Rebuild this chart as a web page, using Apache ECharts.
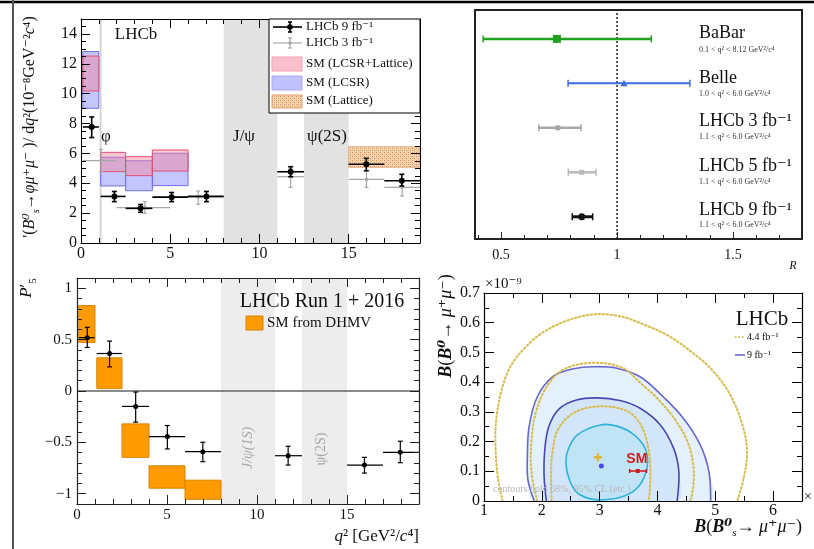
<!DOCTYPE html>
<html><head><meta charset="utf-8">
<script src="https://cdn.jsdelivr.net/npm/echarts@6/dist/echarts.min.js"></script>
<style>html,body{margin:0;padding:0;background:#fff}#c{width:814px;height:549px}</style>
</head><body><div id="c"></div>
<script>
const SERIF = 'Liberation Serif, Times New Roman, DejaVu Serif, serif';
const SANS = 'Liberation Sans, Arial, DejaVu Sans, sans-serif';

// ---------------- Panel 1 : dB/dq2 of Bs -> phi mu mu ----------------
const p1XMajor = [0, 5, 10, 15];
const p1YMajor = [0, 2, 4, 6, 8, 10, 12, 14];
const p1Lhcb9X   = [0.6, 1.87, 3.34, 5.08, 7.03, 11.75, 15.99, 17.98];
const p1Lhcb9XLo = [0.1, 1.1, 2.5, 4.0, 6.0, 11.0, 15.0, 17.0];
const p1Lhcb9XHi = [1.0, 2.5, 4.0, 6.0, 8.0, 12.5, 17.0, 19.0];
const p1Lhcb9Y   = [7.77, 3.12, 2.32, 3.07, 3.12, 4.77, 5.27, 4.17];
const p1Lhcb9YLo = [7.06, 2.77, 2.06, 2.77, 2.77, 4.44, 4.84, 3.82];
const p1Lhcb9YHi = [8.44, 3.45, 2.58, 3.38, 3.45, 5.11, 5.67, 4.60];
const p1Lhcb3X   = [1.12, 3.58, 6.57, 11.75, 16.0, 18.0];
const p1Lhcb3XLo = [0.1, 2.0, 5.0, 11.0, 15.0, 17.0];
const p1Lhcb3XHi = [2.0, 5.0, 8.0, 12.5, 17.0, 19.0];
const p1Lhcb3Y   = [5.51, 2.37, 3.08, 4.44, 4.26, 3.73];
const p1Lhcb3YLo = [4.78, 1.99, 2.59, 3.73, 3.73, 3.15];
const p1Lhcb3YHi = [6.27, 2.77, 3.48, 5.00, 4.84, 4.20];
const p1SmBinLo = [0.1, 1.1, 2.5, 4.0];
const p1SmBinHi = [1.0, 2.5, 4.0, 6.0];
const p1LcsrLatLo = [10.18, 4.78, 4.51, 4.82];
const p1LcsrLatHi = [12.52, 6.07, 5.78, 6.23];
const p1LcsrLo = [9.02, 3.82, 3.50, 3.84];
const p1LcsrHi = [12.82, 5.74, 5.51, 6.01];
const p1LatticeBin = [15.0, 19.0];
const p1LatticeBand = [5.07, 6.45];
const p1VetoLo = [8.0, 12.5];
const p1VetoHi = [11.0, 15.0];
const p1PhiLine = 1.1;

// ---------------- Panel 2 : R_K* comparison ----------------
const p2XMajor = [0.5, 1.0, 1.5];
const p2XMinor = [0.4,0.5,0.6,0.7,0.8,0.9,1.0,1.1,1.2,1.3,1.4,1.5,1.6,1.7];
const p2Names  = ['BaBar', 'Belle', 'LHCb 3 fb⁻¹', 'LHCb 5 fb⁻¹', 'LHCb 9 fb⁻¹'];
const p2Ranges = ['0.1 < q² < 8.12 GeV²/c⁴', '1.0 < q² < 6.0 GeV²/c⁴', '1.1 < q² < 6.0 GeV²/c⁴', '1.1 < q² < 6.0 GeV²/c⁴', '1.1 < q² < 6.0 GeV²/c⁴'];
const p2Row = [4.5, 3.5, 2.5, 1.5, 0.5];
const p2Val = [0.741, 1.03, 0.745, 0.848, 0.848];
const p2Lo  = [0.423, 0.789, 0.663, 0.79, 0.807];
const p2Hi  = [1.148, 1.314, 0.845, 0.91, 0.895];
const p2SM = 1.0;

// ---------------- Panel 3 : P5' ----------------
const p3XMajor = [0, 5, 10, 15];
const p3YMajor = [-1, -0.5, 0, 0.5, 1];
const p3X   = [0.57, 1.81, 3.26, 5.02, 6.99, 11.73, 15.97, 17.96];
const p3XLo = [0.1, 1.1, 2.5, 4.0, 6.0, 11.0, 15.0, 17.0];
const p3XHi = [0.98, 2.5, 4.0, 6.0, 8.0, 12.5, 17.0, 19.0];
const p3Y   = [0.519, 0.365, -0.150, -0.444, -0.591, -0.630, -0.721, -0.597];
const p3YLo = [0.424, 0.235, -0.303, -0.564, -0.688, -0.721, -0.799, -0.698];
const p3YHi = [0.620, 0.486, -0.010, -0.336, -0.499, -0.538, -0.646, -0.489];
const p3SmXLo = [0.1, 1.1, 2.5, 4.0, 6.0];
const p3SmXHi = [1.0, 2.5, 4.0, 6.0, 8.0];
const p3SmLo = [0.473, 0.023, -0.646, -0.946, -1.054];
const p3SmHi = [0.832, 0.323, -0.320, -0.728, -0.868];
const p3VetoLo = [8.0, 12.5];
const p3VetoHi = [11.0, 15.0];

// ---------------- Panel 4 : B(B0->mumu) vs B(Bs->mumu) ----------------
const p4XMajor = [1, 2, 3, 4, 5, 6];
const p4YMajor = [0, 0.1, 0.2, 0.3, 0.4, 0.5, 0.6, 0.7];
const p4Yellow3 = [[1.32,0],[1.24,0.08],[1.2,0.18],[1.21,0.27],[1.3,0.37],[1.45,0.45],[1.68,0.51],[2.0,0.565],[2.45,0.608],[2.9,0.628],[3.35,0.622],[3.75,0.595],[4.2,0.555],[4.6,0.5],[4.95,0.44],[5.26,0.357],[5.47,0.256],[5.55,0.166],[5.49,0.076],[5.38,0]];
const p4Blue2 = [[1.87,0],[1.76,0.07],[1.75,0.15],[1.78,0.25],[1.92,0.35],[2.2,0.42],[2.55,0.445],[2.9,0.452],[3.3,0.447],[3.7,0.418],[4.05,0.36],[4.45,0.278],[4.74,0.189],[4.89,0.099],[4.92,0]];
const p4Yellow2 = [[1.92,0],[1.82,0.1],[1.82,0.2],[1.9,0.3],[2.1,0.39],[2.4,0.445],[2.9,0.465],[3.4,0.448],[3.7,0.398],[4.0,0.345],[4.3,0.275],[4.52,0.2],[4.62,0.12],[4.62,0.05],[4.57,0]];
const p4Blue1 = [[2.08,0],[2.04,0.08],[2.05,0.17],[2.12,0.25],[2.3,0.31],[2.6,0.34],[2.95,0.347],[3.35,0.338],[3.7,0.312],[4.05,0.256],[4.28,0.177],[4.37,0.099],[4.34,0]];
const p4Yellow1 = [[2.17,0],[2.16,0.07],[2.18,0.16],[2.28,0.24],[2.54,0.295],[2.95,0.318],[3.45,0.305],[3.7,0.26],[3.84,0.18],[3.88,0.09],[3.85,0]];
const p4Cyan = [[3.01,0.256],[2.61,0.222],[2.45,0.17],[2.42,0.12],[2.48,0.07],[2.6,0.03],[2.82,0.008],[3.07,0.004],[3.35,0.012],[3.6,0.035],[3.76,0.075],[3.83,0.127],[3.78,0.18],[3.58,0.225],[3.3,0.252]];
const p4Fit44 = [2.97, 0.147];
const p4Fit9 = [3.03, 0.118];
const p4SM = [3.66, 0.101, 3.52, 3.81];

// ---------------- helpers ----------------
function steps(a, b, s) { const r = []; for (let v = a; v <= b + 1e-9; v += s) r.push(Math.round(v * 1000) / 1000); return r; }
const xAxes = [], yAxes = [];
function sideAxes(kind, grid, pos, min, max, major, minor, o) {
  o = o || {};
  const list = kind === 'x' ? xAxes : yAxes;
  const lineStyle = { color: o.lineColor || '#000', width: o.lineWidth || 1 };
  const tickStyle = { color: o.lineColor || '#000', width: 1 };
  const main = {
    type: 'value', gridIndex: grid, position: pos, min: min, max: max, z: 10,
    axisLine: { show: true, onZero: false, lineStyle: lineStyle },
    axisTick: { show: !!major, inside: true, length: o.majLen || 8, customValues: major || [], lineStyle: tickStyle },
    axisLabel: { show: !!o.labels, customValues: major || [], margin: o.margin || 4, fontFamily: SERIF,
      fontSize: o.fontSize || 15, color: '#111', formatter: o.formatter },
    splitLine: { show: false }
  };
  const idx = list.push(main) - 1;
  if (minor) {
    list.push({ type: 'value', gridIndex: grid, position: pos, min: min, max: max, z: 10,
      axisLine: { show: false, onZero: false },
      axisTick: { show: true, inside: true, length: o.minLen || 4, customValues: minor, lineStyle: tickStyle },
      axisLabel: { show: false }, splitLine: { show: false } });
  }
  return idx;
}
const minus = v => (v < 0 ? '−' : '') + Math.abs(v);

// Panel 1 axes
const a1x = sideAxes('x', 0, 'bottom', 0, 19, p1XMajor, steps(0, 19, 1), { labels: true, majLen: 9, minLen: 5, fontSize: 16, margin: 3 });
sideAxes('x', 0, 'top', 0, 19, p1XMajor, steps(0, 19, 1), { majLen: 9, minLen: 5 });
const a1y = sideAxes('y', 0, 'left', 0, 15, p1YMajor, steps(0, 15, 0.5), { labels: true, majLen: 9, minLen: 5, fontSize: 16, margin: 4 });
sideAxes('y', 0, 'right', 0, 15, p1YMajor, steps(0, 15, 0.5), { majLen: 9, minLen: 5 });
// Panel 2 axes
const fr2 = { lineWidth: 2, lineColor: '#222' };
const a2x = sideAxes('x', 1, 'bottom', 0.388, 1.797, p2XMajor, p2XMinor, { labels: true, majLen: 7, minLen: 4, fontSize: 14, margin: 9, lineWidth: 2, lineColor: '#222' });
sideAxes('x', 1, 'top', 0.388, 1.797, null, null, fr2);
const a2y = sideAxes('y', 1, 'left', 0, 5.15, null, null, fr2);
sideAxes('y', 1, 'right', 0, 5.15, null, null, fr2);
// Panel 3 axes
const a3x = sideAxes('x', 2, 'bottom', 0, 19, p3XMajor, steps(0, 19, 1), { labels: true, majLen: 9, minLen: 5, fontSize: 15, margin: 4, lineColor: '#222', lineWidth: 1.2 });
sideAxes('x', 2, 'top', 0, 19, p3XMajor, steps(0, 19, 1), { majLen: 9, minLen: 5, lineColor: '#222', lineWidth: 1.2 });
const a3y = sideAxes('y', 2, 'left', -1.1, 1.1, p3YMajor, steps(-1.1, 1.1, 0.1), { labels: true, majLen: 9, minLen: 5, fontSize: 15, margin: 5, formatter: minus, lineColor: '#222', lineWidth: 1.2 });
sideAxes('y', 2, 'right', -1.1, 1.1, p3YMajor, steps(-1.1, 1.1, 0.1), { majLen: 9, minLen: 5, lineColor: '#222', lineWidth: 1.2 });
// Panel 4 axes
const a4x = sideAxes('x', 3, 'bottom', 1, 6.5, p4XMajor, steps(1, 6.5, 0.5), { labels: true, majLen: 10, minLen: 5, fontSize: 16, margin: 2, lineWidth: 1.2 });
sideAxes('x', 3, 'top', 1, 6.5, p4XMajor, steps(1, 6.5, 0.5), { majLen: 10, minLen: 5, lineWidth: 1.2 });
const a4y = sideAxes('y', 3, 'left', 0, 0.7, p4YMajor, steps(0, 0.7, 0.05), { labels: true, majLen: 10, minLen: 5, fontSize: 16, margin: 4, lineWidth: 1.2 });
sideAxes('y', 3, 'right', 0, 0.7, p4YMajor, steps(0, 0.7, 0.05), { majLen: 10, minLen: 5, lineWidth: 1.2 });

// pattern for lattice band
function hatch() {
  const c = document.createElement('canvas'); c.width = 4; c.height = 4;
  const g = c.getContext('2d');
  g.fillStyle = '#f7d4b2'; g.fillRect(0, 0, 4, 4);
  g.fillStyle = '#d98e4c'; g.fillRect(0, 0, 1, 1); g.fillRect(2, 2, 1, 1);
  g.fillStyle = '#eab386'; g.fillRect(2, 0, 1, 1); g.fillRect(0, 2, 1, 1);
  return c;
}
const hatchImg = hatch();

// series builders
function rectSeries(ax, ay, rects, style, z) {
  return { type: 'custom', xAxisIndex: ax, yAxisIndex: ay, clip: true, z: z || 2, silent: true,
    data: rects,
    renderItem(params, api) {
      const p0 = api.coord([api.value(0), api.value(3)]);
      const p1 = api.coord([api.value(1), api.value(2)]);
      return { type: 'rect', shape: { x: p0[0], y: p0[1], width: p1[0] - p0[0], height: p1[1] - p0[1] }, style: Object.assign({}, style) };
    } };
}
function errSeries(ax, ay, pts, o) {
  return { type: 'custom', xAxisIndex: ax, yAxisIndex: ay, clip: true, z: o.z || 5, silent: true,
    data: pts,
    renderItem(params, api) {
      const x = api.value(0), y = api.value(1);
      const c = api.coord([x, y]), l = api.coord([api.value(2), y]), r = api.coord([api.value(3), y]);
      const t = api.coord([x, api.value(5)]), b = api.coord([x, api.value(4)]);
      const st = { stroke: o.color, lineWidth: o.lw || 1 };
      const ch = [
        { type: 'line', shape: { x1: l[0], y1: l[1], x2: r[0], y2: r[1] }, style: st },
        { type: 'line', shape: { x1: t[0], y1: t[1], x2: b[0], y2: b[1] }, style: st }
      ];
      if (o.cap) {
        ch.push({ type: 'line', shape: { x1: t[0] - o.cap, y1: t[1], x2: t[0] + o.cap, y2: t[1] }, style: st });
        ch.push({ type: 'line', shape: { x1: b[0] - o.cap, y1: b[1], x2: b[0] + o.cap, y2: b[1] }, style: st });
      }
      if (o.r) ch.push({ type: 'circle', shape: { cx: c[0], cy: c[1], r: o.r }, style: { fill: o.color } });
      return { type: 'group', children: ch };
    } };
}
function zip(...arrs) { return arrs[0].map((_, i) => arrs.map(a => a[i])); }
function contour(pts, o) {
  return { type: 'custom', xAxisIndex: a4x, yAxisIndex: a4y, clip: true, z: o.z || 3, silent: true,
    data: [[3, 0.3]],
    renderItem(params, api) {
      const P = pts.map(p => api.coord(p));
      const ch = [];
      if (o.fill) ch.push({ type: 'polygon', shape: { points: P, smooth: 0.35 }, style: { fill: o.fill, stroke: null } });
      if (o.stroke) ch.push({ type: o.closed ? 'polygon' : 'polyline', shape: { points: P, smooth: 0.35 },
        style: { fill: null, stroke: o.stroke, lineWidth: o.lw || 1.5, lineDash: o.dash || null, lineCap: o.dash ? 'round' : 'butt' } });
      return { type: 'group', children: ch };
    } };
}

const series = [];
// ---- Panel 1 series ----
series.push(rectSeries(a1x, a1y, zip(p1VetoLo, p1VetoHi, [0, 0], [15, 15]), { fill: '#e2e2e2' }, 1));
series.push({ type: 'custom', xAxisIndex: a1x, yAxisIndex: a1y, clip: true, z: 1, silent: true, data: [[p1PhiLine]],
  renderItem(params, api) { const a = api.coord([api.value(0), 0]), b = api.coord([api.value(0), 15]);
    return { type: 'line', shape: { x1: a[0], y1: a[1], x2: b[0], y2: b[1] }, style: { stroke: '#d6d6d6', lineWidth: 2 } }; } });
series.push(rectSeries(a1x, a1y, zip(p1SmBinLo, p1SmBinHi, p1LcsrLo, p1LcsrHi), { fill: 'rgba(150,150,255,0.55)', stroke: '#7070ee', lineWidth: 1 }, 2));
series.push(rectSeries(a1x, a1y, zip(p1SmBinLo, p1SmBinHi, p1LcsrLatLo, p1LcsrLatHi), { fill: 'rgba(245,130,150,0.45)', stroke: '#e05070', lineWidth: 1 }, 3));
series.push(rectSeries(a1x, a1y, [[p1LatticeBin[0], p1LatticeBin[1], p1LatticeBand[0], p1LatticeBand[1]]], { fill: { image: hatchImg, repeat: 'repeat' }, stroke: '#e0a070', lineWidth: 0.8 }, 3));
series.push(errSeries(a1x, a1y, zip(p1Lhcb3X, p1Lhcb3Y, p1Lhcb3XLo, p1Lhcb3XHi, p1Lhcb3YLo, p1Lhcb3YHi), { color: '#a8a8a8', lw: 1.2, cap: 2, r: 1.8, z: 4 }));
series.push(errSeries(a1x, a1y, zip(p1Lhcb9X, p1Lhcb9Y, p1Lhcb9XLo, p1Lhcb9XHi, p1Lhcb9YLo, p1Lhcb9YHi), { color: '#000', lw: 1.6, cap: 2.5, r: 3, z: 5 }));

// ---- Panel 2 series ----
const p2Color = ['#22a022', '#3a6ee0', '#a8a8a8', '#b9b9b9', '#111111'];
const p2Lw = [2.5, 2, 2.5, 2.5, 3];
const p2Mark = ['square', 'triangle', 'square', 'square', 'circle'];
const p2Size = [4, 3.5, 2.5, 2.5, 3.5];
series.push({ type: 'custom', xAxisIndex: a2x, yAxisIndex: a2y, clip: true, z: 2, silent: true, data: [[p2SM]],
  renderItem(params, api) { const a = api.coord([api.value(0), 0]), b = api.coord([api.value(0), 5.15]);
    return { type: 'line', shape: { x1: a[0], y1: a[1], x2: b[0], y2: b[1] }, style: { stroke: '#222', lineWidth: 1.5, lineDash: [2, 2] } }; } });
series.push({ type: 'custom', xAxisIndex: a2x, yAxisIndex: a2y, clip: true, z: 5, silent: true,
  data: zip(p2Val, p2Row, p2Lo, p2Hi),
  renderItem(params, api) {
    const i = params.dataIndex, col = p2Color[i];
    const y = api.value(1);
    const c = api.coord([api.value(0), y]), l = api.coord([api.value(2), y]), r = api.coord([api.value(3), y]);
    const st = { stroke: col, lineWidth: p2Lw[i] };
    const ch = [
      { type: 'line', shape: { x1: l[0], y1: l[1], x2: r[0], y2: r[1] }, style: st },
      { type: 'line', shape: { x1: l[0], y1: l[1] - 3.5, x2: l[0], y2: l[1] + 3.5 }, style: { stroke: col, lineWidth: 1.5 } },
      { type: 'line', shape: { x1: r[0], y1: r[1] - 3.5, x2: r[0], y2: r[1] + 3.5 }, style: { stroke: col, lineWidth: 1.5 } }
    ];
    const s = p2Size[i];
    if (p2Mark[i] === 'square') ch.push({ type: 'rect', shape: { x: c[0] - s, y: c[1] - s, width: 2 * s, height: 2 * s }, style: { fill: col } });
    else if (p2Mark[i] === 'triangle') ch.push({ type: 'polygon', shape: { points: [[c[0], c[1] - s], [c[0] - s, c[1] + s * 0.8], [c[0] + s, c[1] + s * 0.8]] }, style: { fill: col } });
    else ch.push({ type: 'circle', shape: { cx: c[0], cy: c[1], r: s }, style: { fill: col } });
    return { type: 'group', children: ch };
  } });

// ---- Panel 3 series ----
series.push(rectSeries(a3x, a3y, zip(p3VetoLo, p3VetoHi, [-1.1, -1.1], [1.1, 1.1]), { fill: '#ededed' }, 1));
series.push({ type: 'custom', xAxisIndex: a3x, yAxisIndex: a3y, clip: true, z: 2, silent: true, data: [[0]],
  renderItem(params, api) { const a = api.coord([0, api.value(0)]), b = api.coord([19, api.value(0)]);
    return { type: 'line', shape: { x1: a[0], y1: a[1], x2: b[0], y2: b[1] }, style: { stroke: '#666', lineWidth: 1.5 } }; } });
series.push(rectSeries(a3x, a3y, zip(p3SmXLo, p3SmXHi, p3SmLo, p3SmHi), { fill: '#ff9a00', stroke: '#d98300', lineWidth: 1 }, 3));
series.push(errSeries(a3x, a3y, zip(p3X, p3Y, p3XLo, p3XHi, p3YLo, p3YHi), { color: '#000', lw: 1.2, cap: 2.5, r: 2.5, z: 5 }));

// ---- Panel 4 series ----
series.push(contour(p4Blue2, { fill: '#e4f0fc', z: 1 }));
series.push(contour(p4Blue1, { fill: '#d3e6f9', z: 1 }));
series.push(contour(p4Cyan, { fill: '#c0e4f6', z: 1, closed: true }));
series.push(contour(p4Yellow3, { stroke: '#d8bb4c', lw: 2, dash: [1.5, 2.5], z: 3 }));
series.push(contour(p4Blue2, { stroke: '#6868c8', lw: 1.6, z: 3 }));
series.push(contour(p4Yellow2, { stroke: '#d8bb4c', lw: 2, dash: [1.5, 2.5], z: 3 }));
series.push(contour(p4Blue1, { stroke: '#4848ac', lw: 1.6, z: 3 }));
series.push(contour(p4Yellow1, { stroke: '#d8bb4c', lw: 2, dash: [1.5, 2.5], z: 3 }));
series.push(contour(p4Cyan, { stroke: '#2fb3da', lw: 1.6, z: 3, closed: true }));
series.push({ type: 'custom', xAxisIndex: a4x, yAxisIndex: a4y, clip: true, z: 6, silent: true,
  data: [[p4Fit44[0], p4Fit44[1], p4Fit9[0], p4Fit9[1], p4SM[0], p4SM[1], p4SM[2], p4SM[3]]],
  renderItem(params, api) {
    const f4 = api.coord([api.value(0), api.value(1)]);
    const f9 = api.coord([api.value(2), api.value(3)]);
    const sm = api.coord([api.value(4), api.value(5)]);
    const sl = api.coord([api.value(6), api.value(5)]), sr = api.coord([api.value(7), api.value(5)]);
    const y4 = { stroke: '#e2b43a', lineWidth: 2.5 };
    const red = { stroke: '#cc1f1f', lineWidth: 1.6 };
    return { type: 'group', children: [
      { type: 'line', shape: { x1: f4[0] - 4, y1: f4[1], x2: f4[0] + 4, y2: f4[1] }, style: y4 },
      { type: 'line', shape: { x1: f4[0], y1: f4[1] - 4, x2: f4[0], y2: f4[1] + 4 }, style: y4 },
      { type: 'circle', shape: { cx: f9[0], cy: f9[1], r: 2.5 }, style: { fill: '#4a4ae0' } },
      { type: 'line', shape: { x1: sl[0], y1: sl[1], x2: sr[0], y2: sr[1] }, style: red },
      { type: 'line', shape: { x1: sl[0], y1: sl[1] - 2, x2: sl[0], y2: sl[1] + 2 }, style: red },
      { type: 'line', shape: { x1: sr[0], y1: sr[1] - 2, x2: sr[0], y2: sr[1] + 2 }, style: red },
      { type: 'rect', shape: { x: sm[0] - 2, y: sm[1] - 2, width: 4, height: 4 }, style: { fill: '#cc1f1f' } },
      { type: 'text', x: sm[0] - 1, y: sm[1] - 12, style: { text: 'SM', fill: '#cc1f1f', fontFamily: SANS, fontWeight: 'bold', fontSize: 14, align: 'center', verticalAlign: 'middle', textAlign: 'center', textVerticalAlign: 'middle' } }
    ] };
  } });

// ---------------- text / decorations ----------------
function T(text, x, y, o) {
  o = o || {};
  return { type: 'text', x: x, y: y, rotation: o.rot || 0, z: o.z || 120,
    style: { text: text, fill: o.color || '#111', fontFamily: o.family || SERIF, fontSize: o.size || 15,
      fontStyle: o.italic ? 'italic' : 'normal', fontWeight: o.bold ? 'bold' : 'normal',
      textAlign: o.align || 'center', textVerticalAlign: o.valign || 'middle', align: o.align || 'center', verticalAlign: o.valign || 'middle',
      rich: o.rich } };
}
const graphic = [];
// outer borders
graphic.push({ type: 'line', z: 130, shape: { x1: 0, y1: 2, x2: 814, y2: 2 }, style: { stroke: '#000', lineWidth: 2.5 } });
graphic.push({ type: 'line', z: 130, shape: { x1: 13, y1: 0, x2: 13, y2: 549 }, style: { stroke: '#555', lineWidth: 2 } });

// Panel 1 texts
graphic.push(T('LHCb', 136, 35, { size: 17 }));
graphic.push(T('φ', 106, 137, { size: 17 }));
graphic.push(T('J/ψ', 244, 137, { size: 17 }));
graphic.push(T('ψ(2S)', 327, 137, { size: 17 }));
const richY1 = { n: { fontFamily: SERIF, fontSize: 16, lineHeight: 22, fill: '#111' },
  i: { fontFamily: SERIF, fontSize: 16, fontStyle: 'italic', lineHeight: 22, fill: '#111' },
  s: { fontFamily: SERIF, fontSize: 10, fontStyle: 'italic', lineHeight: 22, verticalAlign: 'bottom', fill: '#111' } };
graphic.push(T("{n|'(}{i|B⁰}{s|s}{n|→}{i|φμ⁺μ⁻}{n| )/ d}{i|q}{n|²(10⁻⁸GeV⁻²}{i|c}{n|⁴)}", 30, 127, { rot: Math.PI / 2, rich: richY1 }));
// Panel 1 legend
graphic.push({ type: 'rect', z: 110, shape: { x: 269, y: 19, width: 151, height: 94 }, style: { fill: '#fff', stroke: '#000', lineWidth: 1 } });
function legErr(y, col, r) {
  const st = { stroke: col, lineWidth: col === '#000' ? 1.6 : 1.2 };
  graphic.push({ type: 'line', z: 115, shape: { x1: 273, y1: y, x2: 302, y2: y }, style: st });
  graphic.push({ type: 'line', z: 115, shape: { x1: 290, y1: y - 5, x2: 290, y2: y + 5 }, style: st });
  graphic.push({ type: 'line', z: 115, shape: { x1: 288, y1: y - 5, x2: 292, y2: y - 5 }, style: st });
  graphic.push({ type: 'line', z: 115, shape: { x1: 288, y1: y + 5, x2: 292, y2: y + 5 }, style: st });
  graphic.push({ type: 'circle', z: 115, shape: { cx: 290, cy: y, r: r }, style: { fill: col } });
}
legErr(27, '#000', 2.8);
legErr(43, '#a8a8a8', 1.8);
graphic.push({ type: 'rect', z: 115, shape: { x: 272, y: 57, width: 30, height: 14 }, style: { fill: 'rgba(245,150,165,0.6)', stroke: '#f0a0b0' } });
graphic.push({ type: 'rect', z: 115, shape: { x: 272, y: 76, width: 30, height: 14 }, style: { fill: 'rgba(160,160,255,0.65)', stroke: '#a8a8ff' } });
graphic.push({ type: 'rect', z: 115, shape: { x: 272, y: 95, width: 30, height: 13 }, style: { fill: { image: hatchImg, repeat: 'repeat' }, stroke: '#e0a070' } });
const leg1 = ['LHCb 9 fb⁻¹', 'LHCb 3 fb⁻¹', 'SM (LCSR+Lattice)', 'SM (LCSR)', 'SM (Lattice)'];
const leg1Y = [27, 43, 64, 83, 101];
leg1.forEach((t, i) => graphic.push(T(t, 306, leg1Y[i], { size: 13, align: 'left', z: 116 })));

// Panel 2 texts
const p2NameY = [33, 78, 121, 166, 210];
const p2SubY = [50, 94, 137, 182, 225];
p2Names.forEach((t, i) => graphic.push(T(t, 699, p2NameY[i], { size: 18, align: 'left' })));
p2Ranges.forEach((t, i) => graphic.push(T(t, 699, p2SubY[i], { size: 8, align: 'left', color: '#333' })));
graphic.push(T('R', 793, 266, { size: 12, italic: true }));

// Panel 3 texts
graphic.push(T('LHCb Run 1 + 2016', 322, 302, { size: 20 }));
graphic.push({ type: 'rect', z: 115, shape: { x: 246, y: 316, width: 17, height: 14 }, style: { fill: '#ff9a00', stroke: '#d98300' } });
graphic.push(T('SM from DHMV', 267, 323, { size: 15, align: 'left' }));
graphic.push(T('J/ψ(1S)', 248, 448, { size: 14, rot: Math.PI / 2, color: '#a8a8a8', italic: true, z: 20 }));
graphic.push(T('ψ(2S)', 321, 449, { size: 14, rot: Math.PI / 2, color: '#a8a8a8', z: 20 }));
graphic.push(T('{i|P}{n|′}{s|5}', 27, 288, { rot: Math.PI / 2, rich: {
  i: { fontFamily: SERIF, fontSize: 17, fontStyle: 'italic', lineHeight: 24, fill: '#111' },
  n: { fontFamily: SERIF, fontSize: 17, lineHeight: 24, fill: '#111' },
  s: { fontFamily: SERIF, fontSize: 11, lineHeight: 24, verticalAlign: 'bottom', fill: '#111' } } }));
graphic.push(T('{i|q}{n|² [GeV²/}{i|c}{n|⁴]}', 419, 537, { align: 'right', rich: {
  i: { fontFamily: SERIF, fontSize: 17, fontStyle: 'italic', fill: '#111' },
  n: { fontFamily: SERIF, fontSize: 17, fill: '#111' } } }));

// Panel 4 texts
graphic.push(T('×10⁻⁹', 485, 284, { size: 15, align: 'left' }));
graphic.push(T('LHCb', 762, 319, { size: 21 }));
graphic.push({ type: 'line', z: 115, shape: { x1: 735, y1: 337, x2: 745, y2: 337 }, style: { stroke: '#d8bb4c', lineWidth: 2, lineDash: [1.5, 2] } });
graphic.push(T('4.4 fb⁻¹', 747, 337, { size: 10, align: 'left' }));
graphic.push({ type: 'line', z: 115, shape: { x1: 735, y1: 355, x2: 745, y2: 355 }, style: { stroke: '#6868c8', lineWidth: 1.6 } });
graphic.push(T('9 fb⁻¹', 747, 355, { size: 10, align: 'left' }));
graphic.push(T('contours hold 68%, 95% CL (etc.)', 493, 489, { size: 10, align: 'left', color: '#b8b8b8', z: 20 }));
graphic.push(T('×', 808, 497, { size: 14 }));
const richB = { b: { fontFamily: SERIF, fontSize: 18, fontStyle: 'italic', fontWeight: 'bold', fill: '#111' },
  n: { fontFamily: SERIF, fontSize: 18, fill: '#111' },
  s: { fontFamily: SERIF, fontSize: 11, fontStyle: 'italic', fill: '#111', verticalAlign: 'bottom', lineHeight: 24 } };
graphic.push(T('{b|B}{n|(}{b|B⁰}{n|→ }{i|μ⁺μ⁻}{n|)}', 446, 326, { rot: Math.PI / 2, rich: Object.assign({ i: { fontFamily: SERIF, fontSize: 18, fontStyle: 'italic', fill: '#111' } }, richB) }));
graphic.push(T('{b|B}{n|(}{b|B⁰}{s|s}{n|→ }{i|μ⁺μ⁻}{n|)}', 802, 527, { align: 'right', rich: Object.assign({ i: { fontFamily: SERIF, fontSize: 18, fontStyle: 'italic', fill: '#111', lineHeight: 24 } }, richB) }));

const chart = echarts.init(document.getElementById('c'));
chart.setOption({
  animation: false,
  backgroundColor: '#fff',
  grid: [
    { left: 81, top: 19, width: 339, height: 224 },
    { left: 475, top: 10, width: 327, height: 229 },
    { left: 77, top: 278, width: 342, height: 226 },
    { left: 484, top: 293, width: 318, height: 208 }
  ],
  xAxis: xAxes,
  yAxis: yAxes,
  series: series,
  graphic: graphic
});
</script></body></html>
